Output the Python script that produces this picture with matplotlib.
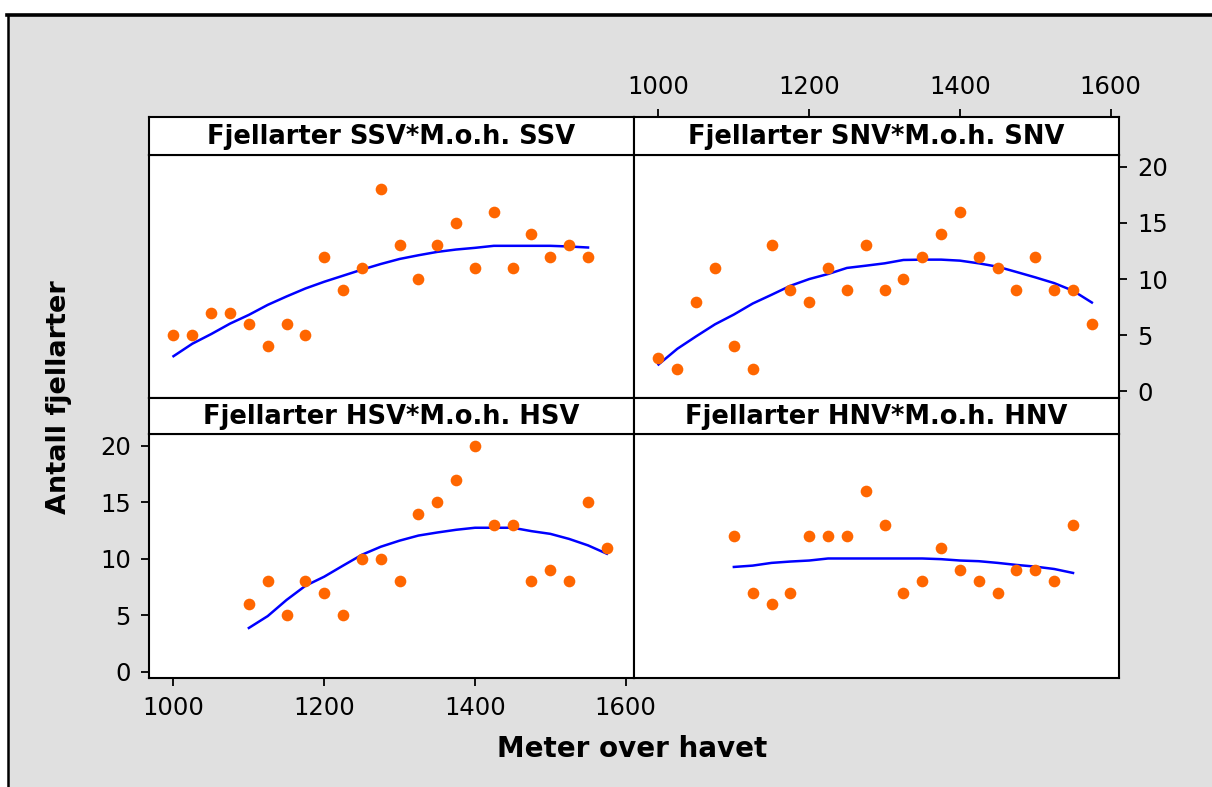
import matplotlib
matplotlib.use("Agg")
from matplotlib import pyplot as plt
from matplotlib.patches import Rectangle
from matplotlib.lines import Line2D

plt.rcParams['font.family'] = ['DejaVu Sans']

W, H = 1212, 787

titles = ["Fjellarter SSV*M.o.h. SSV", "Fjellarter SNV*M.o.h. SNV",
          "Fjellarter HSV*M.o.h. HSV", "Fjellarter HNV*M.o.h. HNV"]

# SSV
moh_ssv = [1000, 1025, 1050, 1075, 1100, 1125, 1150, 1175, 1200, 1225, 1250, 1275,
           1300, 1325, 1350, 1375, 1400, 1425, 1450, 1475, 1500, 1525, 1550]
arter_ssv = [5, 5, 7, 7, 6, 4, 6, 5, 12, 9, 11, 18, 13, 10, 13, 15, 11, 16, 11, 14, 12, 13, 12]
glatt_ssv = [3.13, 4.24, 5.10, 6.03, 6.81, 7.70, 8.45, 9.16, 9.76, 10.30, 10.84, 11.34,
             11.79, 12.12, 12.42, 12.63, 12.78, 12.96, 12.96, 12.96, 12.96, 12.90, 12.81]

# SNV
moh_snv = [1000, 1025, 1050, 1075, 1100, 1125, 1150, 1175, 1200, 1225, 1250, 1275,
           1300, 1325, 1350, 1375, 1400, 1425, 1450, 1475, 1500, 1525, 1550, 1575]
arter_snv = [3, 2, 8, 11, 4, 2, 13, 9, 8, 11, 9, 13, 9, 10, 12, 14, 16, 12, 11, 9, 12, 9, 9, 6]
glatt_snv = [2.39, 3.79, 4.90, 5.97, 6.84, 7.82, 8.60, 9.40, 10.00, 10.45, 10.99, 11.19,
             11.40, 11.70, 11.73, 11.73, 11.64, 11.40, 11.10, 10.63, 10.15, 9.64, 8.96, 7.91]

# HSV
moh_hsv = [1100, 1125, 1150, 1175, 1200, 1225, 1250, 1275, 1300, 1325, 1350, 1375,
           1400, 1425, 1450, 1475, 1500, 1525, 1550, 1575]
arter_hsv = [6, 8, 5, 8, 7, 5, 10, 10, 8, 14, 15, 17, 20, 13, 13, 8, 9, 8, 15, 11]
glatt_hsv = [3.88, 4.93, 6.36, 7.61, 8.42, 9.40, 10.36, 11.07, 11.61, 12.06, 12.33, 12.57,
             12.75, 12.75, 12.75, 12.45, 12.21, 11.76, 11.19, 10.45]

# HNV
moh_hnv = [1100, 1125, 1150, 1175, 1200, 1225, 1250, 1275, 1300, 1325, 1350, 1375,
           1400, 1425, 1450, 1475, 1500, 1525, 1550]
arter_hnv = [12, 7, 6, 7, 12, 12, 12, 16, 13, 7, 8, 11, 9, 8, 7, 9, 9, 8, 13]
glatt_hnv = [9.28, 9.40, 9.64, 9.76, 9.85, 10.03, 10.03, 10.03, 10.03, 10.03, 10.03, 9.97,
             9.85, 9.79, 9.64, 9.46, 9.31, 9.10, 8.75]

x_ticks = [1000, 1200, 1400, 1600]
y_ticks = [0, 5, 10, 15, 20]
x_lim = (967.5, 1611)
y_lim = (-0.55, 21.05)

panels = [(moh_ssv, arter_ssv, glatt_ssv), (moh_snv, arter_snv, glatt_snv),
          (moh_hsv, arter_hsv, glatt_hsv), (moh_hnv, arter_hnv, glatt_hnv)]

fig = plt.figure(figsize=(W / 100, H / 100), dpi=100)
fig.patch.set_facecolor('white')
fig.add_artist(Rectangle((8 / W, 0), 1, 1 - 14.5 / H, transform=fig.transFigure,
                         facecolor='#e0e0e0', edgecolor='none', zorder=-10))
fig.add_artist(Line2D([7 / W, 1], [1 - 14.5 / H] * 2, color='black', lw=2.6))
fig.add_artist(Line2D([8 / W, 8 / W], [0, 1 - 14.5 / H], color='black', lw=1.8))

col_x = [149, 634]
col_w = 485
# (strip top, strip bottom, plot bottom) in pixels from the top
rows = [(117, 155, 397.5), (397.5, 434, 678)]

for i, (mx, ar, gl) in enumerate(panels):
    r, c = divmod(i, 2)
    st, sb, pb = rows[r]
    x0 = col_x[c] / W
    w = col_w / W
    ax = fig.add_axes([x0, 1 - pb / H, w, (pb - sb) / H])
    sax = fig.add_axes([x0, 1 - sb / H, w, (sb - st) / H])

    ax.plot(mx, gl, color='#0000ff', lw=1.8, zorder=2)
    ax.plot(mx, ar, 'o', color='#ff6600', ms=8.4, mec='none', zorder=3)
    ax.set_xlim(x_lim)
    ax.set_ylim(y_lim)
    sax.set_xlim(x_lim)

    for a in (ax, sax):
        a.set_facecolor('white')
        for sp in a.spines.values():
            sp.set_linewidth(1.5)
            sp.set_color('black')
        a.tick_params(direction='out', length=6, width=1.3, labelsize=17.5,
                      pad=7, colors='black')
        a.set_xticks([])
        a.set_yticks([])

    sax.text(0.5, 0.47, titles[i], transform=sax.transAxes, ha='center', va='center',
             fontsize=18.5, fontweight='bold')

    if i == 1:
        sax.set_xticks(x_ticks)
        sax.xaxis.tick_top()
        ax.set_yticks(y_ticks)
        ax.yaxis.tick_right()
    if i == 2:
        ax.set_xticks(x_ticks)
        ax.set_yticks(y_ticks)

fig.text(59 / W, 1 - 397 / H, "Antall fjellarter", rotation=90, ha='center', va='center',
         fontsize=19.5, fontweight='bold')
fig.text(632 / W, 1 - 757 / H, "Meter over havet", ha='center', va='baseline',
         fontsize=20, fontweight='bold')

fig.savefig("out.png", dpi=100)
